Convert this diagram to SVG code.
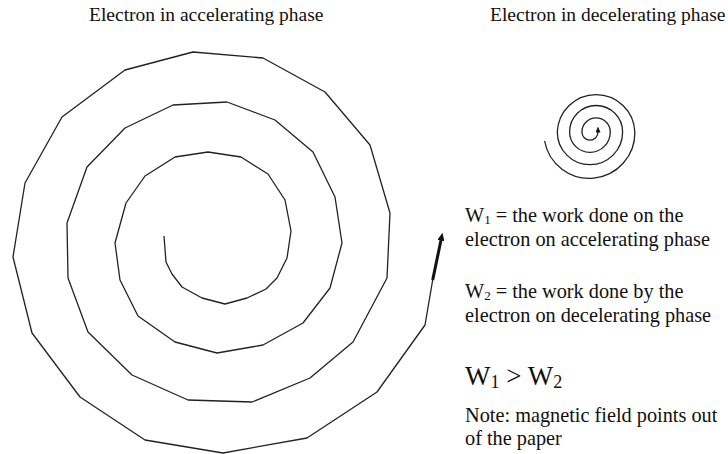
<svg xmlns="http://www.w3.org/2000/svg" width="728" height="454" viewBox="0 0 728 454">
  <style>
    .t { font-family: "Liberation Serif", "Times New Roman", serif; fill: #111; }
    .title { font-size: 19.5px; }
    .body { font-size: 20.3px; }
    .big { font-size: 27px; }
    .spiral { fill: none; stroke: #222; stroke-width: 1.3; stroke-linejoin: round; }
  </style>
  <defs>
    <marker id="headBig" viewBox="0 0 8 7" refX="0.5" refY="3.5" markerWidth="8" markerHeight="7" markerUnits="userSpaceOnUse" orient="auto">
      <path d="M0,0 L8,3.5 L0,7 z" fill="#111"/>
    </marker>
    <marker id="headSmall" viewBox="0 0 6 5" refX="0.5" refY="2.5" markerWidth="6" markerHeight="5" markerUnits="userSpaceOnUse" orient="auto">
      <path d="M0,0 L6,2.5 L0,5 z" fill="#111"/>
    </marker>
  </defs>
  <rect width="728" height="454" fill="#fff"/>

  <g id="titles">
    <text class="t title" x="89" y="21">Electron in accelerating phase</text>
    <text class="t title" x="490" y="21">Electron in decelerating phase</text>
  </g>

  <g id="big-spiral">
    <polyline class="spiral" points="164,236 166,262 172,274 182,287 202,298 225,304 247,298 266,289 277,278 287,258 291,231 285,200 268,174 241,157 208,152 175,157 145,176 126,203 115,243 120,280 138,316 175,342 217,353 263,345 303,323 330,288 342,243 335,197 313,152 275,120 227,102 173,105 125,128 87,167 67,223 68,278 88,332 132,375 188,400 252,402 310,378 353,342 387,278 390,213 370,145 325,92 263,58 193,52 125,70 62,117 25,183 13,257 32,333 80,397 145,440 223,453 307,438 377,392 425,325 432.7,280"/>
    <line x1="432.7" y1="280" x2="441" y2="240" stroke="#111" stroke-width="3" marker-end="url(#headBig)"/>
  </g>

  <g id="small-spiral">
    <path class="spiral" d="M544.6,141 A45.5,45.5 0 0 0 634.85,132 A38.8,38.8 0 0 0 557.3,132 A32.65,32.65 0 0 0 622.6,132 A26.5,26.5 0 0 0 569.6,132 A20.35,20.35 0 0 0 610.3,132 A14.2,14.2 0 0 0 581.9,132 A8.05,8.05 0 0 0 598,132" marker-end="url(#headSmall)"/>
  </g>

  <g id="labels">
    <text class="t body" x="465" y="222">W<tspan font-size="13" dy="2">1</tspan><tspan dy="-2"> = the work done on the</tspan></text>
    <text class="t body" x="465" y="246">electron on accelerating phase</text>
    <text class="t body" x="465" y="298">W<tspan font-size="13" dy="2">2</tspan><tspan dy="-2"> = the work done by the</tspan></text>
    <text class="t body" x="465" y="322">electron on decelerating phase</text>
    <text class="t big" x="465" y="385">W<tspan font-size="18" dy="3">1</tspan><tspan dy="-3"> &gt; W</tspan><tspan font-size="18" dy="3">2</tspan></text>
    <text class="t body" x="465" y="422">Note: magnetic field points out</text>
    <text class="t body" x="465" y="445">of the paper</text>
  </g>
</svg>
